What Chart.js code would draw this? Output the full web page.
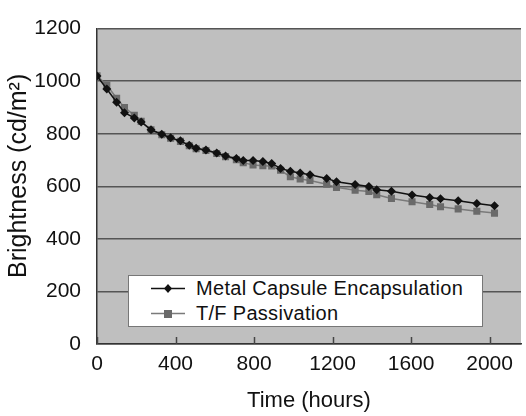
<!DOCTYPE html>
<html>
<head>
<meta charset="utf-8">
<script src="https://cdn.jsdelivr.net/npm/chart.js@4/dist/chart.umd.min.js"></script>
<style>
  body { margin: 0; background: #fff; }
  #wrap { position: relative; width: 526px; height: 416px; }
  #legend {
    position: absolute; left: 128px; top: 275px; width: 355px; height: 52px;
    background: #fff; border: 1px solid #777; box-sizing: border-box;
    font-family: 'Liberation Sans', Arial, sans-serif; font-size: 20px; letter-spacing: 0.3px; color: #111;
  }
  .row { position: absolute; left: 0; height: 24px; line-height: 24px; white-space: nowrap; }
  .row span { position: absolute; left: 67px; top: 0; }
  .row canvas { position: absolute; left: 20px; top: 0; }
</style>
</head>
<body>
<div id="wrap">
  <canvas id="brightnessChart" width="526" height="416"></canvas>
  <div id="legend">
    <div class="row" style="top:0px"><canvas id="lg1" width="40" height="24"></canvas><span>Metal Capsule Encapsulation</span></div>
    <div class="row" style="top:25px"><canvas id="lg2" width="40" height="24"></canvas><span>T/F Passivation</span></div>
  </div>
</div>
<script>
// time in hours
const hours = [0, 50, 100, 140, 190, 225, 275, 330, 375, 425, 470, 505, 555, 610, 655, 710, 745, 795, 845, 890,
               935, 985, 1035, 1085, 1170, 1220, 1315, 1385, 1425, 1500, 1605, 1695, 1750, 1840, 1935, 2025];
// brightness cd/m2
const metalCapsule = [1020, 970, 920, 880, 860, 845, 815, 798, 785, 773, 756, 745, 738, 727, 715, 706, 698, 698, 694, 687,
                      668, 657, 651, 644, 630, 617, 607, 599, 587, 581, 567, 557, 553, 545, 535, 526];
const tfPassivation = [1020, 985, 935, 900, 870, 847, 815, 796, 783, 771, 754, 743, 736, 725, 713, 701, 690, 681, 678, 677,
                       661, 636, 628, 622, 608, 596, 585, 580, 568, 554, 541, 531, 522, 514, 505, 498];
const xTicks = [0, 400, 800, 1200, 1600, 2000];
const yTicks = [0, 200, 400, 600, 800, 1000, 1200];

const FONT = "'Liberation Sans', Arial, sans-serif";
const toPoints = ys => hours.map((h, i) => ({ x: h, y: ys[i] }));

// grey plot area + inward ticks on the time axis
const plotArea = {
    id: 'plotArea',
    beforeDraw(chart) {
        const { ctx, chartArea: a } = chart;
        ctx.save();
        ctx.fillStyle = '#bfbfbf';
        ctx.fillRect(a.left, a.top, a.right - a.left, a.bottom - a.top);
        ctx.restore();
    },
    afterDatasetsDraw(chart) {
        const { ctx, chartArea: a, scales } = chart;
        ctx.save();
        ctx.strokeStyle = '#444';
        ctx.lineWidth = 1.5;
        xTicks.forEach(v => {
            const px = Math.round(scales.x.getPixelForValue(v)) + 0.5;
            ctx.beginPath();
            ctx.moveTo(px, a.bottom);
            ctx.lineTo(px, a.bottom - 7);
            ctx.stroke();
        });
        ctx.restore();
    }
};

const ctx = document.getElementById('brightnessChart').getContext('2d');
new Chart(ctx, {
    type: 'scatter',
    data: {
        datasets: [{
            label: 'Metal Capsule Encapsulation',
            data: toPoints(metalCapsule),
            showLine: true,
            borderColor: '#111',
            backgroundColor: '#111',
            borderWidth: 1.5,
            pointStyle: 'rectRot',
            pointRadius: 4.5,
            pointBorderWidth: 0
        }, {
            label: 'T/F Passivation',
            data: toPoints(tfPassivation),
            showLine: true,
            borderColor: '#7a7a7a',
            backgroundColor: '#6a6a6a',
            borderWidth: 1.5,
            pointStyle: 'rect',
            pointRadius: 5,
            pointBorderWidth: 0
        }]
    },
    options: {
        responsive: false,
        animation: false,
        layout: { padding: { top: 17, right: 1, left: 0, bottom: 0 } },
        plugins: {
            legend: { display: false },
            tooltip: { enabled: false }
        },
        scales: {
            x: {
                type: 'linear',
                min: 0,
                max: 2160,
                afterBuildTicks: s => { s.ticks = xTicks.map(v => ({ value: v })); },
                afterFit: s => { s.height = 72; },
                grid: { display: true, drawOnChartArea: false, drawTicks: false },
                border: { display: true, color: '#333', width: 1.5 },
                ticks: { color: '#111', padding: 8, maxRotation: 0, autoSkip: false,
                         callback: v => String(v), font: { family: FONT, size: 21 } },
                title: { display: true, text: 'Time (hours)', color: '#111', padding: { top: 0, bottom: 2 }, font: { family: FONT, size: 22 } }
            },
            y: {
                min: 0,
                max: 1200,
                afterBuildTicks: s => { s.ticks = yTicks.map(v => ({ value: v })); },
                afterFit: s => { s.width = 97; },
                grid: { color: '#555', lineWidth: 1.5, drawTicks: false },
                border: { display: true, color: '#333', width: 1.5 },
                ticks: { color: '#111', padding: 16, callback: v => String(v), font: { family: FONT, size: 21 } },
                title: { display: true, text: '   Brightness (cd/m²)', color: '#111', padding: { top: 4, bottom: 0 }, font: { family: FONT, size: 25 } }
            }
        }
    },
    plugins: [plotArea]
});

// legend samples
function drawSample(id, color, lineColor, style) {
    const c = document.getElementById(id).getContext('2d');
    c.strokeStyle = lineColor;
    c.lineWidth = 1.5;
    c.beginPath();
    c.moveTo(2, 12.5);
    c.lineTo(36, 12.5);
    c.stroke();
    c.fillStyle = color;
    if (style === 'diamond') {
        c.beginPath();
        c.moveTo(19, 8); c.lineTo(23, 12.5); c.lineTo(19, 17); c.lineTo(15, 12.5);
        c.closePath();
        c.fill();
    } else {
        c.fillRect(15, 9, 8, 8);
    }
}
drawSample('lg1', '#111', '#111', 'diamond');
drawSample('lg2', '#6a6a6a', '#7a7a7a', 'square');
</script>
</body>
</html>
